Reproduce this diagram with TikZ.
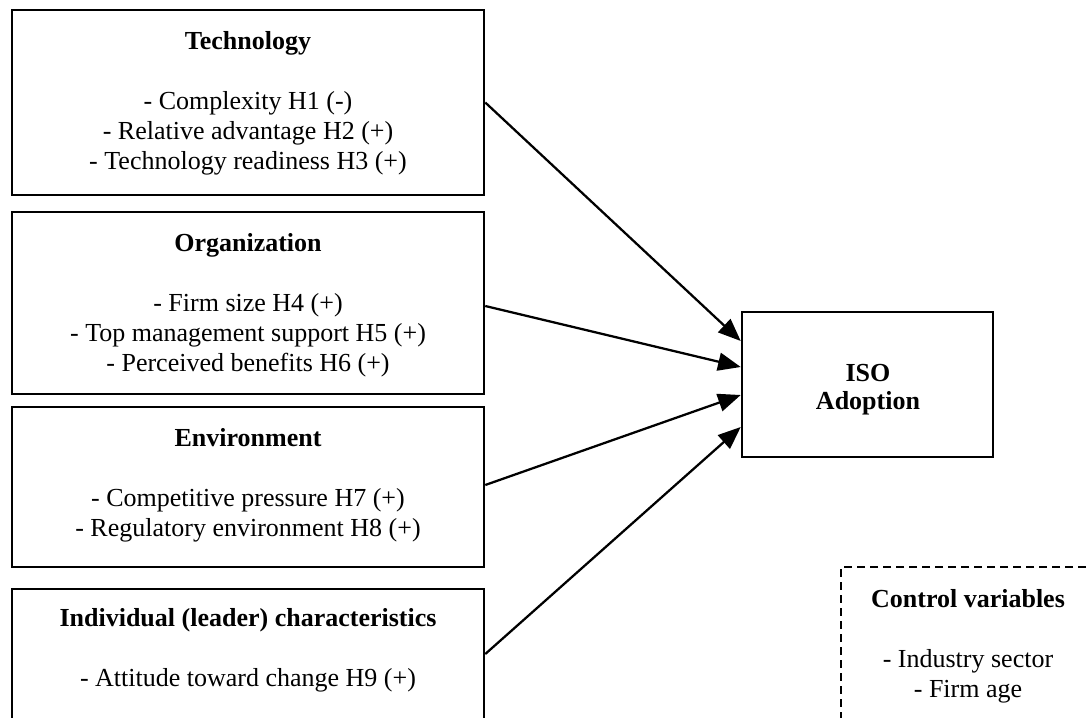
\documentclass[tikz,border=0pt]{standalone}
\usepackage{fontspec}
\setmainfont{Liberation Serif}
\usetikzlibrary{arrows.meta,calc}
\begin{document}
\begin{tikzpicture}[x=0.75pt,y=-0.75pt,
  box/.style={draw,line width=1.9pt,inner sep=0pt},
  ctrlbox/.style={draw,line width=1.7pt,inner sep=0pt,dash pattern=on 6pt off 3.75pt},
  txt/.style={align=center,inner sep=0pt,font=\fontsize{19.5pt}{22.5pt}\selectfont},
  link/.style={line width=1.7pt,-{Triangle[length=17pt,width=13.5pt]}}]
\useasboundingbox (0,0) rectangle (1087,717);
\clip (0,0) rectangle (1087,717);

% factor boxes
\node[box,minimum width=354pt,minimum height=138.75pt] (tech) at (248,102.5) {};
\node[box,minimum width=354pt,minimum height=136.5pt] (org) at (248,303) {};
\node[box,minimum width=354pt,minimum height=120pt] (env) at (248,487) {};
\node[box,minimum width=354pt,minimum height=97.5pt] (ind) at (248,654) {};

% outcome and controls
\node[box,minimum width=188.25pt,minimum height=108.75pt] (iso) at (867.5,384.5) {};
\node[ctrlbox,minimum width=190.5pt,minimum height=114.75pt] (ctrl) at (968,643.5) {};

% box texts
\node[txt] (techtxt) at (248,103) {\textbf{Technology}\\[22.5pt]
  - Complexity H1 (-)\\ - Relative advantage H2 (+)\\ - Technology readiness H3 (+)};
\node[txt] (orgtxt) at (248,305) {\textbf{Organization}\\[22.5pt]
  - Firm size H4 (+)\\ - Top management support H5 (+)\\ - Perceived benefits H6 (+)};
\node[txt] (envtxt) at (248,485) {\textbf{Environment}\\[22.5pt]
  - Competitive pressure H7 (+)\\ - Regulatory environment H8 (+)};
\node[txt] (indtxt) at (248,650) {\textbf{Individual (leader) characteristics}\\[22.5pt]
  - Attitude toward change H9 (+)};
\node[txt,font=\fontsize{19.5pt}{21pt}\selectfont\bfseries] (isotxt) at (868,390) {ISO\\Adoption};
\node[txt] (ctrltxt) at (968,646.5) {\textbf{Control variables}\\[22.5pt]
  - Industry sector\\ - Firm age};

% hypothesised effects
\draw[link] (tech.east) -- ($(iso.west)+(0,-43.5)$);
\draw[link] ($(org.east)+(0,3)$) -- ($(iso.west)+(0,-17.5)$);
\draw[link] ($(env.east)+(0,-2)$) -- ($(iso.west)+(0,10.5)$);
\draw[link] (ind.east) -- ($(iso.west)+(0,42.5)$);
\end{tikzpicture}
\end{document}
